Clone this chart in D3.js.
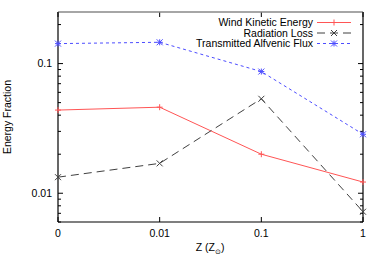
<!DOCTYPE html>
<html><head><meta charset="utf-8">
<script src="https://cdn.jsdelivr.net/npm/d3@7"></script>
<style>body{margin:0;background:#fff}svg{display:block}text{font-family:"Liberation Sans",Arial,sans-serif;font-size:10.5px;fill:#000}</style>
</head><body>
<script>
const categories = ["0", "0.01", "0.1", "1"];
const windKinetic = [0.0438, 0.0461, 0.0200, 0.0122];
const radiationLoss = [0.0133, 0.0170, 0.0535, 0.0072];
const alfvenicFlux = [0.1426, 0.146, 0.0868, 0.0285];
const seriesNames = ["Wind Kinetic Energy", "Radiation Loss", "Transmitted Alfvenic Flux"];
const yMajorTicks = [0.01, 0.1];
const yDomain = [0.006, 0.25];

const W = 382, H = 267;
const L = 58, R = 363, T = 12, B = 222;
const svg = d3.select("body").append("svg").attr("width", W).attr("height", H);

const x = d3.scalePoint().domain(categories).range([L, R]);
const y = d3.scaleLog().domain(yDomain).range([B, T]);

const minor = [];
for (let e = -3; e <= 0; e++) for (let m = 2; m <= 9; m++) {
  const v = m * Math.pow(10, e);
  if (v >= yDomain[0] && v <= yDomain[1]) minor.push(v);
}
const g = svg.append("g");
yMajorTicks.forEach(v => {
  g.append("line").attr("x1", L).attr("x2", L + 5).attr("y1", y(v)).attr("y2", y(v)).attr("stroke", "#000");
  g.append("line").attr("x1", R).attr("x2", R - 5).attr("y1", y(v)).attr("y2", y(v)).attr("stroke", "#000");
  g.append("text").attr("x", L - 6).attr("y", y(v) + 3.8).attr("text-anchor", "end").text(String(v));
});
minor.forEach(v => {
  g.append("line").attr("x1", L).attr("x2", L + 3).attr("y1", y(v)).attr("y2", y(v)).attr("stroke", "#000");
  g.append("line").attr("x1", R).attr("x2", R - 3).attr("y1", y(v)).attr("y2", y(v)).attr("stroke", "#000");
});
categories.forEach(c => {
  g.append("line").attr("x1", x(c)).attr("x2", x(c)).attr("y1", B).attr("y2", B - 5).attr("stroke", "#000");
  g.append("line").attr("x1", x(c)).attr("x2", x(c)).attr("y1", T).attr("y2", T + 5).attr("stroke", "#000");
  g.append("text").attr("x", x(c)).attr("y", B + 15).attr("text-anchor", "middle").text(c);
});
g.append("line").attr("x1", L).attr("x2", R).attr("y1", T).attr("y2", T).attr("stroke", "#888").attr("stroke-width", 1.5);
g.append("line").attr("x1", L).attr("x2", L).attr("y1", T).attr("y2", B).attr("stroke", "#000").attr("stroke-width", 1.2);
g.append("line").attr("x1", R).attr("x2", R).attr("y1", T).attr("y2", B).attr("stroke", "#000").attr("stroke-width", 1.2);
g.append("line").attr("x1", L).attr("x2", R).attr("y1", B).attr("y2", B).attr("stroke", "#000").attr("stroke-width", 1.2);

const xl = svg.append("text").attr("x", 210).attr("y", 251).attr("text-anchor", "middle");
xl.append("tspan").text("Z (Z");
xl.append("tspan").attr("font-size", "7px").attr("dy", 2.5).text("\u2299");
xl.append("tspan").attr("dy", -2.5).text(")");
svg.append("text").attr("transform", "translate(11,117) rotate(-90)").attr("text-anchor", "middle").text("Energy Fraction");

function marker(sel, type, cx, cy, color) {
  const s = 3;
  const p = [];
  if (type === "plus" || type === "star") p.push(`M${cx - s},${cy}H${cx + s}M${cx},${cy - s}V${cy + s}`);
  if (type === "x" || type === "star") p.push(`M${cx - s},${cy - s}L${cx + s},${cy + s}M${cx - s},${cy + s}L${cx + s},${cy - s}`);
  sel.append("path").attr("d", p.join("")).attr("stroke", color).attr("stroke-width", 1).attr("fill", "none");
}

const series = [
  {name: seriesNames[0], vals: windKinetic, color: "#ff5555", dash: null, mk: "plus"},
  {name: seriesNames[1], vals: radiationLoss, color: "#404040", dash: "8,5", mk: "x"},
  {name: seriesNames[2], vals: alfvenicFlux, color: "#4d4dff", dash: "3,3", mk: "star"}
];
const line = d3.line().x((d, i) => x(categories[i])).y(d => y(d));
series.forEach((s, k) => {
  svg.append("path").attr("d", line(s.vals)).attr("fill", "none").attr("stroke", s.color)
    .attr("stroke-width", 1).attr("stroke-dasharray", s.dash);
  s.vals.forEach((v, i) => marker(svg, s.mk, x(categories[i]), y(v), s.color));
  const ly = 22.5 + k * 10.5;
  svg.append("text").attr("x", 313).attr("y", ly + 3.8).attr("text-anchor", "end").text(s.name);
  svg.append("line").attr("x1", 317).attr("x2", 351).attr("y1", ly).attr("y2", ly)
    .attr("stroke", s.color).attr("stroke-dasharray", s.dash);
  marker(svg, s.mk, 334, ly, s.color);
});
</script>
</body></html>
